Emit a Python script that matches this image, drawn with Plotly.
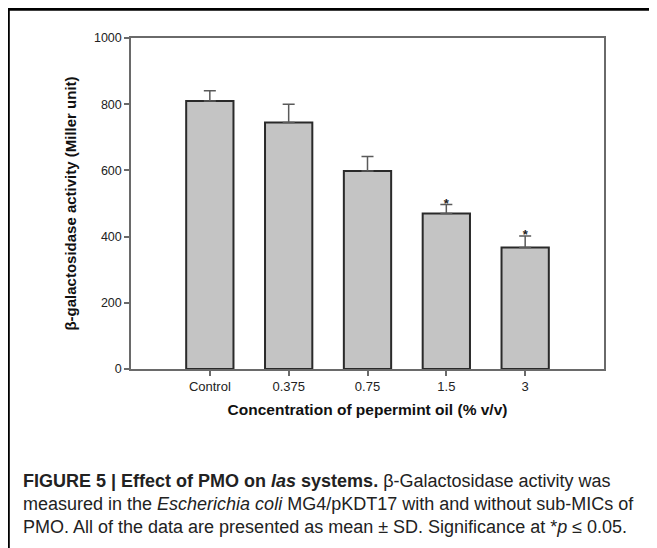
import plotly.graph_objects as go

categories = ["Control", "0.375", "0.75", "1.5", "3"]
means = [810, 745, 598, 470, 367]
sd = [31, 55, 44, 27, 35]
significant = [False, False, False, True, True]

# page body has an 8px margin, so the figure is drawn 8px smaller than the window
W, H = 649, 540
L, R, T, B = 123, 53, 30, 179
pw, ph = W - L - R, H - T - B

def px(x):
    return (x - L) / pw

def py(y):
    return (H - B - y) / ph

xs = list(range(len(categories)))

fig = go.Figure()
fig.add_trace(go.Bar(
    x=xs, y=means, width=0.6,
    marker=dict(color="#c4c4c4", line=dict(color="#2a2a2a", width=2)),
    error_y=dict(type="data", symmetric=False, array=sd,
                 arrayminus=[0] * len(sd), color="#5a5a5a",
                 thickness=1.5, width=6),
    showlegend=False,
))
star_x = [x for x, s in zip(xs, significant) if s]
star_y = [m + e for m, e, s in zip(means, sd, significant) if s]
fig.add_trace(go.Scatter(
    x=star_x, y=star_y, mode="text", text=["<b>*</b>"] * len(star_x),
    textposition="middle center",
    textfont=dict(family="Arial", size=13, color="#222222"),
    showlegend=False,
))

axis_common = dict(showline=True, linecolor="#6a6a6a", linewidth=1.5,
                   mirror=True, ticks="outside", ticklen=5,
                   tickcolor="#6a6a6a", tickwidth=1.5, showgrid=False,
                   zeroline=False)

fig.update_xaxes(range=[-1, 5], tickvals=xs, ticktext=categories,
                 tickfont=dict(family="Arial", size=13, color="#222222"),
                 title=dict(text="<b>Concentration of pepermint oil (% v/v)</b>",
                            font=dict(family="Arial", size=15.5, color="#111111"),
                            standoff=11),
                 **axis_common)
fig.update_yaxes(range=[0, 1000], tickvals=[0, 200, 400, 600, 800, 1000],
                 tickfont=dict(family="Arial", size=12.5, color="#222222"),
                 title=dict(text="<b>β-galactosidase activity (Miller unit)</b>",
                            font=dict(family="Arial", size=15, color="#111111"),
                            standoff=14),
                 **axis_common)

shapes = [
    dict(type="line", xref="paper", yref="paper",
         x0=px(0), x1=px(W + 5), y0=py(1.3), y1=py(1.3),
         line=dict(color="black", width=2.8)),
    dict(type="line", xref="paper", yref="paper",
         x0=px(0.3), x1=px(0.3), y0=py(0), y1=py(H + 5),
         line=dict(color="black", width=3)),
]

cap_font = dict(family="Arial", size=18, color="#222222")
caption_lines = [
    "<b>FIGURE 5 | Effect of PMO on <i>las</i> systems.</b> β-Galactosidase activity was",
    "measured in the <i>Escherichia coli</i> MG4/pKDT17 with and without sub-MICs of",
    "PMO. All of the data are presented as mean ± SD. Significance at *<i>p</i> ≤ 0.05.",
]
caption_y = [473, 496, 519]
annotations = []
for line, yy in zip(caption_lines, caption_y):
    annotations.append(dict(text=line, xref="paper", yref="paper",
                            x=px(13), y=py(yy), xanchor="left", yanchor="middle",
                            showarrow=False, font=cap_font, align="left"))

fig.update_layout(
    width=W, height=H,
    margin=dict(l=L, r=R, t=T, b=B),
    paper_bgcolor="white", plot_bgcolor="white",
    shapes=shapes, annotations=annotations,
    font=dict(family="Arial"),
)

fig.write_html("out.html")
